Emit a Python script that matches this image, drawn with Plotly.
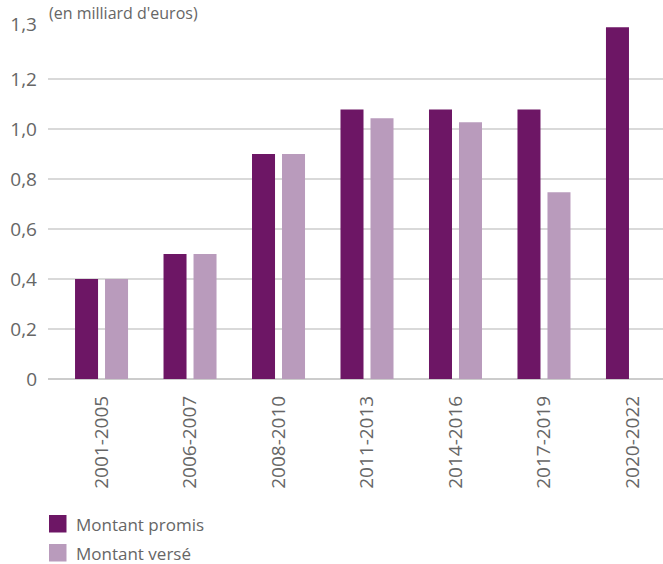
import plotly.graph_objects as go

categories = ["2001-2005", "2006-2007", "2008-2010", "2011-2013", "2014-2016", "2017-2019", "2020-2022"]
montant_promis = [0.40, 0.50, 0.90, 1.078, 1.078, 1.078, 1.407]
montant_verse = [0.40, 0.50, 0.90, 1.043, 1.027, 0.747, None]
series_names = ["Montant promis", "Montant versé"]
tick_values = [0, 0.2, 0.4, 0.6, 0.8, 1.0, 1.2, 1.42]
tick_labels = ["0", "0,2", "0,4", "0,6", "0,8", "1,0", "1,2", "1,3"]
title_text = "(en milliard d'euros)"

C_PROMIS = "#6D1665"
C_VERSE = "#B99BBC"
TXT = "#666666"
FONT = "Open Sans"

W, H = 663, 564
ML, MR, MT, MB = 48, 0, 23, 185
PW, PH = W - ML - MR, H - MT - MB


def px_x(x):
    return (x - ML) / PW


def px_y(y):
    return (H - MB - y) / PH


fig = go.Figure()
fig.add_trace(go.Bar(x=categories, y=montant_promis, name=series_names[0],
                     marker=dict(color=C_PROMIS, line=dict(width=0)), showlegend=False))
fig.add_trace(go.Bar(x=categories, y=montant_verse, name=series_names[1],
                     marker=dict(color=C_VERSE, line=dict(width=0)), showlegend=False))

shapes = []
annotations = []
legend_rows = [(515, C_PROMIS), (544, C_VERSE)]
for (top, col), name in zip(legend_rows, series_names):
    shapes.append(dict(type="rect", xref="paper", yref="paper",
                       x0=px_x(49), x1=px_x(66.5), y0=px_y(top), y1=px_y(top + 17.5),
                       fillcolor=col, line=dict(width=0)))
    annotations.append(dict(xref="paper", yref="paper", x=px_x(74), y=px_y(top + 9),
                            xanchor="left", yanchor="middle", text=name, showarrow=False,
                            font=dict(family=FONT, size=17, color=TXT)))

annotations.append(dict(xref="paper", yref="paper", x=px_x(47), y=px_y(0),
                        xanchor="left", yanchor="top", text=title_text, showarrow=False,
                        font=dict(family=FONT, size=16, color=TXT)))

fig.update_layout(
    width=W, height=H,
    margin=dict(l=ML, r=MR, t=MT, b=MB, pad=0),
    paper_bgcolor="white", plot_bgcolor="white",
    barmode="group", bargap=0.322, bargroupgap=0.233,
    font=dict(family=FONT, color=TXT),
    shapes=shapes, annotations=annotations,
    xaxis=dict(type="category", range=[-0.605, 6.345], tickangle=-90,
               tickfont=dict(family=FONT, size=19, color=TXT),
               showgrid=False, showline=False, zeroline=False, ticks="",
               ticklabelstandoff=12, fixedrange=True),
    yaxis=dict(range=[0, PH / 250], tickvals=tick_values, ticktext=tick_labels,
               tickfont=dict(family=FONT, size=19, color=TXT),
               showgrid=True, gridcolor="#D9D9D9", gridwidth=1.5,
               zeroline=True, zerolinecolor="#CCCCCC", zerolinewidth=2,
               showline=False, ticks="", ticklabelstandoff=10, fixedrange=True),
)

fig.write_html("out.html", config={"displayModeBar": False},
               post_script="document.body.style.margin='0';document.body.style.overflow='hidden';")
